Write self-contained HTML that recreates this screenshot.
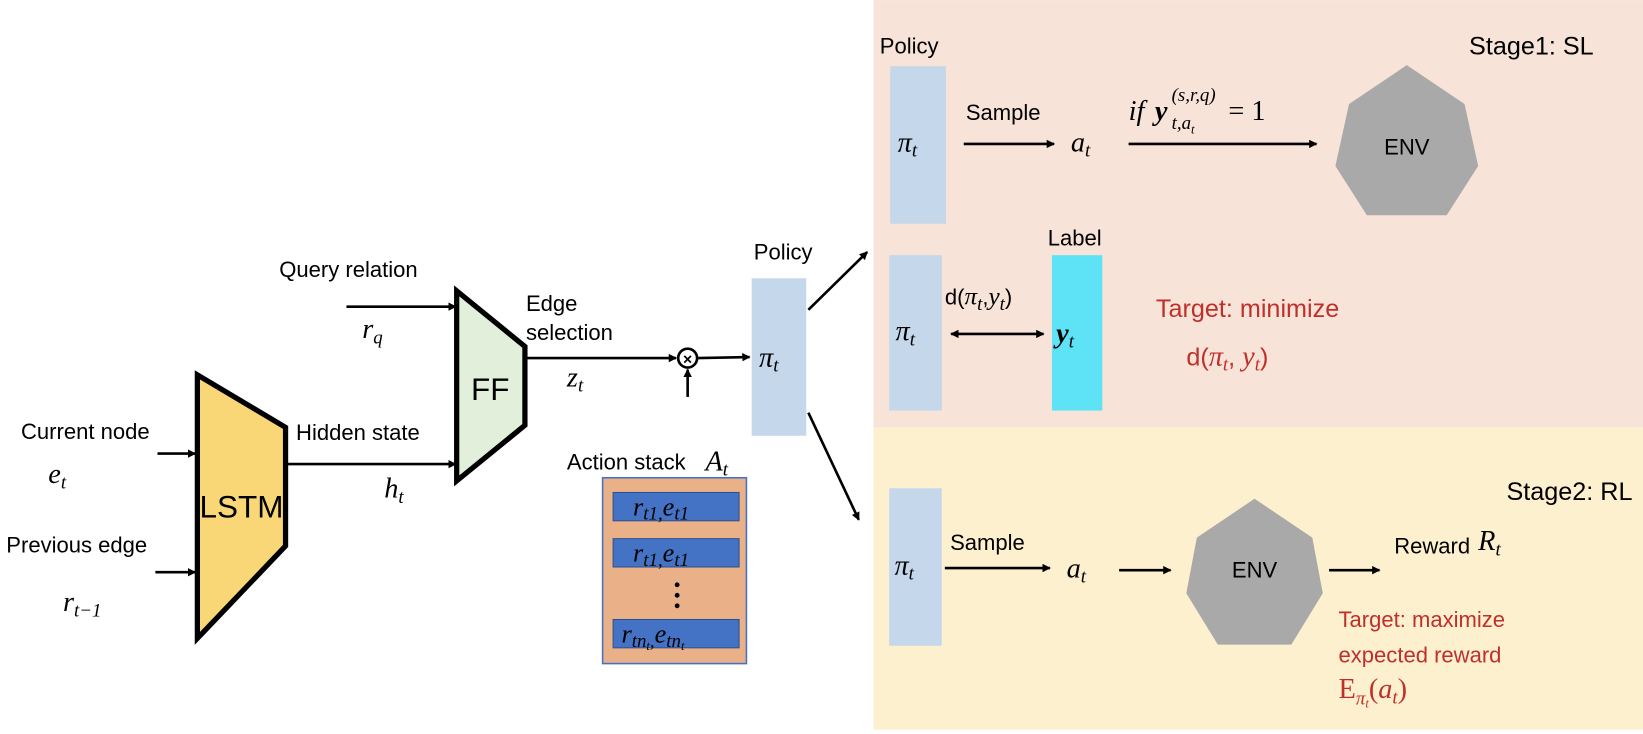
<!DOCTYPE html>
<html><head><meta charset="utf-8"><style>
html,body{margin:0;padding:0;background:#fff;}
svg{display:block}
.t{font-family:"Liberation Sans",sans-serif;font-size:21px;fill:#000}
.m{font-family:"Liberation Serif",serif;font-style:italic;font-size:27px;fill:#000}
.s{font-size:18px}
.r{fill:#c0302a}
</style></head><body>
<svg width="1643" height="734" viewBox="0 0 1565 699" xmlns="http://www.w3.org/2000/svg">
<defs>
<marker id="a" markerWidth="8" markerHeight="8" refX="7" refY="4" orient="auto" markerUnits="userSpaceOnUse"><path d="M0,0 L8,4 L0,8 Z" fill="#000"/></marker>
<marker id="b" markerWidth="8" markerHeight="8" refX="1" refY="4" orient="auto" markerUnits="userSpaceOnUse"><path d="M8,0 L0,4 L8,8 Z" fill="#000"/></marker>
</defs>
<rect x="832" y="0" width="733" height="407" fill="#f7e3d8"/>
<rect x="832" y="407" width="733" height="288" fill="#fcf0cf"/>

<polygon points="188,357 272,407 272,520 188,608" fill="#f9d776" stroke="#000" stroke-width="5"/>
<text x="230" y="493" text-anchor="middle" class="t" style="font-size:30px">LSTM</text>
<polygon points="435,277 500,330 500,405 435,458" fill="#e2efda" stroke="#000" stroke-width="5"/>
<text x="467" y="381" text-anchor="middle" class="t" style="font-size:30px">FF</text>

<text x="20" y="418" class="t">Current node</text>
<line x1="150" y1="432" x2="186" y2="432" stroke="#000" stroke-width="2.5" marker-end="url(#a)"/>
<text x="46" y="460" class="m">e<tspan class="s" dy="5">t</tspan></text>
<text x="6" y="526" class="t">Previous edge</text>
<line x1="148" y1="545" x2="186" y2="545" stroke="#000" stroke-width="2.5" marker-end="url(#a)"/>
<text x="60" y="582" class="m">r<tspan class="s" dy="5">t−1</tspan></text>

<text x="282" y="419" class="t">Hidden state</text>
<line x1="274" y1="442" x2="434" y2="442" stroke="#000" stroke-width="2.5" marker-end="url(#a)"/>
<text x="366" y="474" class="m">h<tspan class="s" dy="5">t</tspan></text>

<text x="266" y="264" class="t">Query relation</text>
<line x1="330" y1="292" x2="434" y2="292" stroke="#000" stroke-width="2.5" marker-end="url(#a)"/>
<text x="345" y="322" class="m">r<tspan class="s" dy="5">q</tspan></text>

<text x="501" y="296" class="t">Edge</text>
<text x="501" y="324" class="t">selection</text>
<line x1="502" y1="341" x2="644" y2="341" stroke="#000" stroke-width="2.5" marker-end="url(#a)"/>
<text x="540" y="368" class="m">z<tspan class="s" dy="5">t</tspan></text>
<circle cx="655" cy="341" r="9" fill="#fff" stroke="#000" stroke-width="2.5"/>
<text x="655" y="347" text-anchor="middle" style="font-family:'Liberation Sans';font-size:15px;font-weight:bold">×</text>
<line x1="665" y1="341" x2="714" y2="340" stroke="#000" stroke-width="2.5" marker-end="url(#a)"/>
<line x1="655" y1="378" x2="655" y2="352" stroke="#000" stroke-width="2.5" marker-end="url(#a)"/>

<text x="718" y="247" class="t">Policy</text>
<rect x="716" y="265" width="52" height="150" fill="#c4d7eb"/>
<text x="723" y="349" class="m">π<tspan class="s" dy="5">t</tspan></text>
<line x1="770" y1="295" x2="826" y2="240" stroke="#000" stroke-width="2.5" marker-end="url(#a)"/>
<line x1="770" y1="393" x2="818" y2="495" stroke="#000" stroke-width="2.5" marker-end="url(#a)"/>

<text x="540" y="447" class="t">Action stack</text>
<text x="672" y="448" class="m">A<tspan class="s" dy="5">t</tspan></text>
<rect x="574" y="455" width="137" height="177" fill="#eab189" stroke="#4472c4" stroke-width="1.5"/>
<rect x="584" y="469" width="120" height="27" fill="#4472c4" stroke="#2f528f" stroke-width="1"/>
<text x="603" y="491" class="m" style="font-size:25px">r<tspan class="s" dy="4">t1,</tspan><tspan dy="-4">e</tspan><tspan class="s" dy="4">t1</tspan></text>
<rect x="584" y="513" width="120" height="27" fill="#4472c4" stroke="#2f528f" stroke-width="1"/>
<text x="603" y="535" class="m" style="font-size:25px">r<tspan class="s" dy="4">t1,</tspan><tspan dy="-4">e</tspan><tspan class="s" dy="4">t1</tspan></text>
<circle cx="645" cy="557" r="2.3" fill="#000"/><circle cx="645" cy="567" r="2.3" fill="#000"/><circle cx="645" cy="577" r="2.3" fill="#000"/>
<rect x="584" y="590" width="120" height="27" fill="#4472c4" stroke="#2f528f" stroke-width="1"/>
<text x="592" y="612" class="m" style="font-size:25px">r<tspan class="s" dy="4">tn</tspan><tspan style="font-size:12px" dy="3">t</tspan><tspan class="s" dy="-3">,</tspan><tspan dy="-4">e</tspan><tspan class="s" dy="4">tn</tspan><tspan style="font-size:12px" dy="3">t</tspan></text>

<text x="1518" y="52" text-anchor="end" class="t" style="font-size:24px">Stage1: SL</text>
<text x="838" y="51" class="t">Policy</text>
<rect x="848" y="63" width="53" height="150" fill="#c4d7eb"/>
<text x="855" y="144" class="m">π<tspan class="s" dy="5">t</tspan></text>
<text x="920" y="114" class="t">Sample</text>
<line x1="918" y1="137" x2="1004" y2="137" stroke="#000" stroke-width="2.5" marker-end="url(#a)"/>
<text x="1020" y="144" class="m">a<tspan class="s" dy="5">t</tspan></text>
<text x="1075" y="114" class="m">if</text>
<text x="1100" y="114" class="m" style="font-weight:bold">y</text>
<text x="1116" y="123" class="m s">t,a<tspan style="font-size:12px" dy="4">t</tspan></text>
<text x="1116" y="96" class="m s">(s,r,q)</text>
<text x="1170" y="114" class="m" style="font-style:normal">= 1</text>
<line x1="1075" y1="137" x2="1254" y2="137" stroke="#000" stroke-width="2.5" marker-end="url(#a)"/>
<polygon points="1340,62 1395,99 1408,158 1378,205 1302,205 1272,158 1285,99" fill="#aaa9a9"/>
<text x="1340" y="147" text-anchor="middle" class="t">ENV</text>

<text x="998" y="234" class="t">Label</text>
<rect x="847" y="243" width="50" height="148" fill="#c4d7eb"/>
<rect x="1002" y="243" width="48" height="148" fill="#5de3f5"/>
<text x="853" y="324" class="m">π<tspan class="s" dy="5">t</tspan></text>
<text x="1006" y="326" class="m" style="font-weight:bold">y<tspan class="s" style="font-weight:normal" dy="5">t</tspan></text>
<text x="900" y="290" class="t">d(<tspan class="m" style="font-size:24px">π</tspan><tspan class="m s" dy="5">t</tspan><tspan dy="-5">,</tspan><tspan class="m" style="font-size:24px">y</tspan><tspan class="m s" dy="5">t</tspan><tspan dy="-5">)</tspan></text>
<line x1="906" y1="318" x2="994" y2="318" stroke="#000" stroke-width="2.5" marker-start="url(#b)" marker-end="url(#a)"/>
<text x="1101" y="302" class="t r" style="font-size:24px">Target: minimize</text>
<text x="1130" y="348" class="t r" style="font-size:24px">d(<tspan class="m r">π</tspan><tspan class="m s r" dy="5">t</tspan><tspan dy="-5">, </tspan><tspan class="m r">y</tspan><tspan class="m s r" dy="5">t</tspan><tspan dy="-5">)</tspan></text>

<text x="1555" y="476" text-anchor="end" class="t" style="font-size:24px">Stage2: RL</text>
<rect x="847" y="465" width="50" height="150" fill="#c4d7eb"/>
<text x="852" y="547" class="m">π<tspan class="s" dy="5">t</tspan></text>
<text x="905" y="524" class="t">Sample</text>
<line x1="900" y1="541" x2="1000" y2="541" stroke="#000" stroke-width="2.5" marker-end="url(#a)"/>
<text x="1016" y="550" class="m">a<tspan class="s" dy="5">t</tspan></text>
<line x1="1066" y1="543" x2="1115" y2="543" stroke="#000" stroke-width="2.5" marker-end="url(#a)"/>
<polygon points="1195,475 1250,512 1260,565 1230,614 1160,614 1130,565 1140,512" fill="#aaa9a9"/>
<text x="1195" y="550" text-anchor="middle" class="t">ENV</text>
<line x1="1266" y1="543" x2="1314" y2="543" stroke="#000" stroke-width="2.5" marker-end="url(#a)"/>
<text x="1328" y="527" class="t">Reward</text>
<text x="1408" y="524" class="m">R<tspan class="s" dy="5">t</tspan></text>
<text x="1275" y="597" class="t r">Target: maximize</text>
<text x="1275" y="631" class="t r">expected reward</text>
<text x="1275" y="665" class="m r" style="font-style:normal">E<tspan class="s" style="font-style:italic" dy="6">π</tspan><tspan style="font-size:12px;font-style:italic" dy="3">t</tspan><tspan dy="-9">(</tspan><tspan style="font-style:italic">a</tspan><tspan class="s" style="font-style:italic" dy="5">t</tspan><tspan dy="-5">)</tspan></text>
</svg>
</body></html>
